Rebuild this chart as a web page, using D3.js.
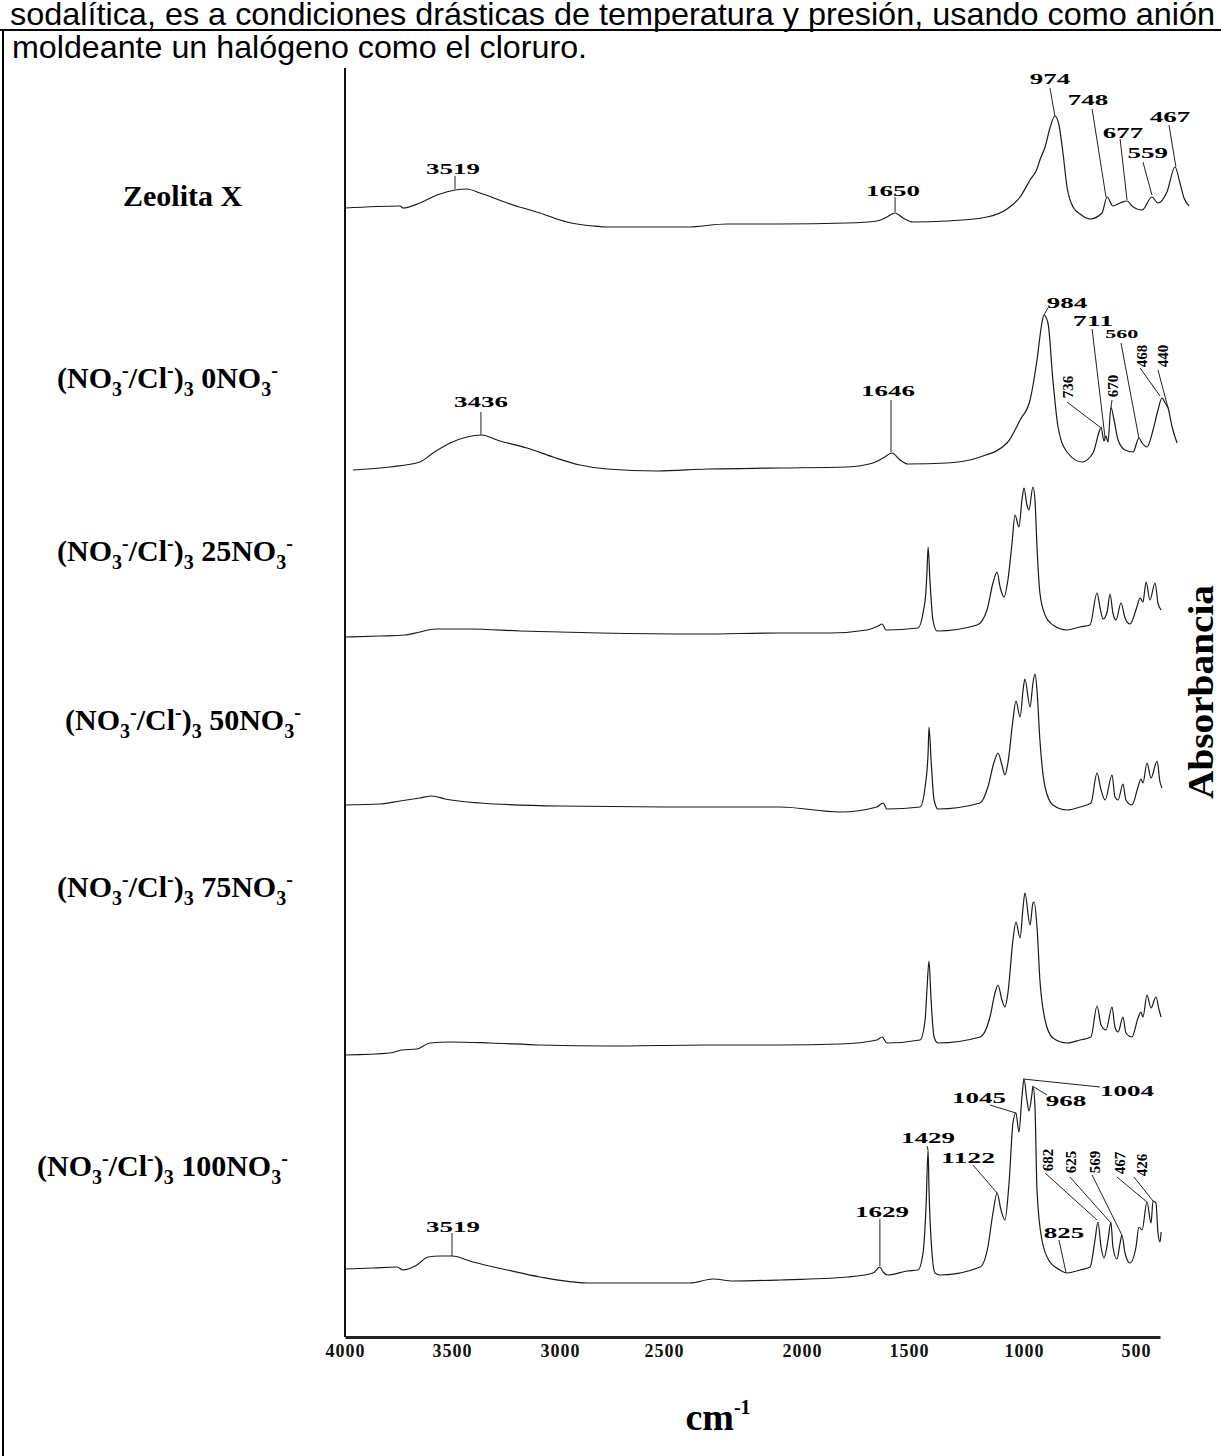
<!DOCTYPE html>
<html>
<head>
<meta charset="utf-8">
<script src="https://cdn.jsdelivr.net/npm/d3@7"></script>
<style>
  body { margin: 0; background: #fff; }
</style>
</head>
<body>
<svg id="chart"></svg>
<script>
// axis ticks (cm-1)
let tickValues = [4000, 3500, 3000, 2500, 2000, 1500, 1000, 500];

// sample names, pieces: [text, "" | "sub" | "sup"]
let sampleLabels = [
    [["Zeolita X", ""]],
    [["(NO", ""], ["3", "sub"], ["-", "sup"], ["/Cl", ""], ["-", "sup"], [")", ""], ["3", "sub"], [" 0NO", ""], ["3", "sub"], ["-", "sup"]],
    [["(NO", ""], ["3", "sub"], ["-", "sup"], ["/Cl", ""], ["-", "sup"], [")", ""], ["3", "sub"], [" 25NO", ""], ["3", "sub"], ["-", "sup"]],
    [["(NO", ""], ["3", "sub"], ["-", "sup"], ["/Cl", ""], ["-", "sup"], [")", ""], ["3", "sub"], [" 50NO", ""], ["3", "sub"], ["-", "sup"]],
    [["(NO", ""], ["3", "sub"], ["-", "sup"], ["/Cl", ""], ["-", "sup"], [")", ""], ["3", "sub"], [" 75NO", ""], ["3", "sub"], ["-", "sup"]],
    [["(NO", ""], ["3", "sub"], ["-", "sup"], ["/Cl", ""], ["-", "sup"], [")", ""], ["3", "sub"], [" 100NO", ""], ["3", "sub"], ["-", "sup"]]
];

// vertical offset of each trace (a.u.)
let offsets = [112.9, 86.7, 70.0, 53.2, 28.2, 6.8];

// spectra: [wavenumber, absorbance above own baseline]
let zeolitaX = [[4000,0],[3743,0.2],[3729,0],[3650,0.5],[3570,1.3],[3486,1.8],[3431,1.9],[3370,1.5],[3245,0.5],[3093,-0.5],[2966,-1.4],[2841,-1.8],[2774,-1.9],[2417,-1.9],[2272,-1.6],[2080,-1.6],[1790,-1.5],[1650,-1.3],[1603,-0.9],[1565,-0.5],[1528,-1.0],[1483,-1.4],[1335,-1.3],[1161,-0.9],[1074,-0.1],[1017,1.1],[973,2.8],[942,3.9],[929,4.8],[906,6.1],[884,8.0],[862,9.2],[844,8.3],[826,5.5],[808,2.1],[781,0.1],[750,-0.6],[705,-1.1],[652,-0.5],[629,1.1],[603,0.2],[571,0.5],[540,0.7],[518,0.2],[473,-0.2],[429,1.1],[402,0.5],[362,1.6],[326,4.1],[304,2.5],[286,1.0],[263,0.2]];

let no3_0 = [[3963,0],[3790,0.3],[3650,0.8],[3589,1.7],[3509,2.7],[3431,3.3],[3366,3.5],[3278,2.9],[3153,2.2],[3032,1.3],[2904,0.5],[2774,0.1],[2534,-0.1],[2344,0.1],[2080,0.2],[1790,0.3],[1668,0.7],[1621,1.2],[1579,1.7],[1542,1.0],[1505,0.6],[1335,0.7],[1191,1.3],[1074,2.7],[1017,5.0],[973,7.0],[942,11.0],[920,14.7],[911,15.5],[893,14.7],[871,9.0],[848,4.3],[808,1.8],[741,0.8],[692,1.7],[665,3.8],[656,4.3],[643,2.9],[634,3.4],[625,2.8],[612,6.3],[598,5.0],[580,3.0],[549,2.0],[513,1.8],[487,3.2],[473,2.7],[451,2.3],[424,4.0],[402,6.0],[384,7.2],[370,6.7],[357,6.2],[339,4.3],[326,3.3],[317,2.7]];

let no3_25 = [[4000,0],[3836,0.1],[3720,0.2],[3650,0.5],[3579,0.8],[3417,0.8],[3185,0.6],[2808,0.4],[2370,0.3],[2080,0.4],[1869,0.4],[1696,0.7],[1645,1.1],[1626,1.3],[1607,0.7],[1461,0.9],[1439,2.4],[1426,4.7],[1422,6.4],[1417,9.0],[1409,5.7],[1396,1.7],[1378,0.6],[1204,1.2],[1161,2.7],[1135,5.4],[1117,6.5],[1104,5.0],[1087,4.0],[1070,5.7],[1052,9.4],[1039,12.2],[1022,11.0],[1009,13.7],[1000,14.9],[987,13.2],[978,12.7],[960,15.0],[951,13.7],[942,9.0],[929,4.4],[906,2.2],[871,1.2],[808,0.7],[750,1.0],[705,1.2],[674,4.4],[661,3.0],[647,1.8],[629,2.5],[616,4.3],[603,2.4],[589,1.7],[567,3.4],[549,1.9],[527,1.3],[496,3.0],[482,3.9],[469,3.5],[455,5.5],[438,3.7],[415,5.4],[402,3.4],[388,2.7]];

let no3_50 = [[4000,0],[3836,0.1],[3743,0.4],[3650,0.7],[3593,0.9],[3533,0.6],[3370,0.2],[3000,-0.1],[2442,-0.2],[2080,-0.2],[1822,-0.7],[1650,-0.2],[1621,0.2],[1603,-0.4],[1452,-0.2],[1430,1.8],[1417,5.2],[1413,7.8],[1404,4.5],[1391,0.5],[1374,-0.4],[1191,0.2],[1157,1.8],[1130,4.3],[1113,5.2],[1096,4.0],[1083,3.0],[1070,4.2],[1048,8.5],[1035,10.4],[1017,8.8],[1004,11.5],[996,12.6],[973,9.8],[960,12.2],[951,13.1],[942,11.5],[929,6.5],[906,1.8],[871,0],[808,-0.5],[750,-0.2],[701,0.2],[674,3.2],[656,1.5],[638,0.5],[607,3.0],[594,0.8],[580,0.5],[558,2.1],[545,0.5],[518,0],[491,1.8],[478,2.6],[469,2.2],[451,4.2],[433,2.7],[406,4.4],[393,2.3],[384,1.7]];

let no3_75 = [[4000,0],[3790,0.2],[3734,0.5],[3664,0.6],[3603,1.2],[3509,1.3],[3324,1.2],[3093,1.0],[2774,0.9],[2344,1.0],[2080,1.0],[1822,1.1],[1650,1.5],[1626,1.8],[1603,1.2],[1452,1.5],[1430,3.5],[1422,6.5],[1413,9.4],[1404,5.5],[1391,1.8],[1374,1.2],[1191,1.8],[1148,3.8],[1126,6.2],[1113,7.0],[1096,5.5],[1083,4.8],[1070,6.2],[1048,11.5],[1035,13.3],[1017,11.7],[1004,14.8],[996,16.2],[973,13.0],[960,15.2],[955,15.3],[942,12.8],[929,7.5],[906,3.5],[871,1.7],[808,1.2],[750,1.5],[701,1.8],[674,4.9],[656,3.0],[634,2.5],[607,4.8],[594,2.8],[580,2.3],[558,3.8],[545,2.2],[518,1.8],[491,3.7],[478,4.3],[469,3.8],[451,6.0],[433,4.7],[411,5.8],[397,4.5],[388,3.8]];

let no3_100 = [[4000,0],[3869,0.1],[3757,0.2],[3729,-0.1],[3664,0.4],[3612,1.2],[3556,1.3],[3500,1.3],[3403,0.7],[3245,-0.1],[3093,-0.8],[2870,-1.4],[2774,-1.4],[2406,-1.4],[2322,-1.0],[2250,-1.2],[2080,-1.1],[1790,-0.8],[1668,-0.4],[1636,0.2],[1621,-0.3],[1598,-0.6],[1509,-0.2],[1461,-0.1],[1439,1.6],[1426,6.2],[1417,11.9],[1413,7.9],[1400,1.6],[1387,-0.4],[1365,-0.6],[1191,0.2],[1157,2.2],[1135,5.6],[1117,7.6],[1100,5.9],[1083,4.9],[1065,8.6],[1048,14.6],[1035,15.6],[1022,13.7],[1009,17.2],[1000,19.0],[987,16.9],[978,15.8],[964,17.6],[960,18.3],[951,16.2],[942,7.9],[920,2.9],[884,0.7],[839,-0.1],[808,-0.4],[750,-0.1],[705,0.2],[683,2.9],[670,4.7],[656,2.2],[643,1.1],[625,2.9],[612,4.7],[603,2.2],[585,1.0],[571,2.6],[563,3.4],[549,1.6],[527,0.6],[500,2.2],[487,4.2],[473,3.9],[451,6.7],[433,4.6],[424,6.8],[411,6.6],[402,3.6],[393,2.7],[388,3.7]];

let spectra = [zeolitaX, no3_0, no3_25, no3_50, no3_75, no3_100];

// peak labels: [text, label wn, label a, leader wn1, a1, wn2, a2, kind] kind 0 flat, 1 rotated, 2 small
let zeolitaPeaks = [
    ["3519", 3495, 3.9, 3486, 3.2, 3486, 1.9, 0],
    ["1650", 1575, 1.7, 1565, 1.1, 1565, -0.4, 0],
    ["974", 884, 12.9, 884, 12.0, 862, 9.2, 0],
    ["748", 714, 10.8, 696, 9.9, 634, 1.1, 0],
    ["677", 558, 7.5, 571, 6.9, 540, 0.8, 0],
    ["559", 447, 5.5, 469, 4.6, 429, 1.3, 0],
    ["467", 348, 9.1, 353, 8.3, 322, 4.1, 0]
];
let no3_0Peaks = [
    ["3436", 3366, 6.8, 3366, 5.8, 3366, 3.5, 0],
    ["1646", 1598, 7.9, 1584, 7.0, 1584, 1.8, 0],
    ["984", 808, 16.7, 893, 16.2, 911, 15.5, 0],
    ["711", 692, 14.9, 696, 14.1, 638, 3.2, 0],
    ["560", 563, 13.6, 567, 12.7, 487, 3.2, 2],
    ["736", 804, 8.3, 808, 6.8, 661, 4.3, 1],
    ["670", 603, 8.4, 607, 7.0, 612, 6.3, 1],
    ["468", 473, 11.4, 482, 10.2, 393, 7.4, 1],
    ["440", 380, 11.4, 402, 10.0, 357, 6.2, 1]
];
let no3_100Peaks = [
    ["3519", 3495, 4.2, 3500, 3.6, 3500, 1.3, 0],
    ["1629", 1626, 5.7, 1636, 5.0, 1636, 0.3, 0],
    ["1429", 1417, 13.1, 1422, 12.3, 1417, 11.9, 0],
    ["1122", 1243, 11.1, 1222, 10.4, 1117, 7.6, 0],
    ["1045", 1196, 17.1, 1148, 16.4, 1035, 15.6, 0],
    ["1004", 540, 17.8, 661, 18.2, 1004, 19.0, 0],
    ["968", 812, 16.8, 897, 17.4, 955, 18.2, 0],
    ["825", 821, 3.6, 844, 2.9, 812, -0.4, 0],
    ["682", 893, 10.9, 906, 9.6, 674, 4.9, 1],
    ["625", 790, 10.7, 795, 9.2, 616, 4.7, 1],
    ["569", 683, 10.7, 696, 9.4, 563, 3.4, 1],
    ["467", 571, 10.6, 585, 9.2, 451, 6.7, 1],
    ["426", 473, 10.4, 509, 9.2, 424, 6.8, 1]
];
let peakSets = [zeolitaPeaks, no3_0Peaks, [], [], [], no3_100Peaks];

let pageLines = [
    "sodalítica, es a condiciones drásticas de temperatura y presión, usando como anión",
    "moldeante un halógeno como el cloruro."
];

let W = 1221, H = 1456;
let serif = "'Liberation Serif', 'Times New Roman', serif";

let svg = d3.select("#chart")
    .attr("width", W)
    .attr("height", H)
    .style("display", "block");

// page frame + running text (first line is cut by the page top, as in the scan)
svg.append("line")
    .attr("x1", 0).attr("x2", W).attr("y1", 30).attr("y2", 30)
    .attr("stroke", "#000").attr("stroke-width", 2);
svg.append("line")
    .attr("x1", 3).attr("x2", 3).attr("y1", 30).attr("y2", H)
    .attr("stroke", "#000").attr("stroke-width", 2);

svg.selectAll(".para")
    .data(pageLines)
    .enter().append("text")
    .attr("class", "para")
    .attr("x", function (d, i) { return i === 0 ? 10 : 12; })
    .attr("y", function (d, i) { return i === 0 ? 25 : 58; })
    .attr("textLength", function (d, i) { return i === 0 ? 1205 : 575; })
    .attr("lengthAdjust", "spacingAndGlyphs")
    .style("font-family", "'Liberation Sans', Arial, sans-serif")
    .style("font-size", "32px")
    .text(function (d) { return d; });

// scales
let x = d3.scaleLinear()
    .domain([4000, 3500, 3000, 2500, 2000, 1500, 1000, 500, 393])
    .range([345, 452, 560, 664, 802, 909, 1024, 1136, 1160]);

let y = d3.scaleLinear()
    .domain([0, 126.9])
    .range([1337, 68]);

// y axis line (no ticks)
svg.append("line")
    .attr("x1", x(4000)).attr("x2", x(4000))
    .attr("y1", y(0)).attr("y2", y(126.9))
    .attr("stroke", "#111").attr("stroke-width", 2);

// x axis
let xAxis = svg.append("g")
    .attr("transform", "translate(0," + y(0) + ")")
    .call(d3.axisBottom(x).tickValues(tickValues).tickSize(0).tickPadding(7)
        .tickFormat(d3.format("d")));
xAxis.select(".domain")
    .attr("stroke", "#222").attr("stroke-width", 3);
xAxis.selectAll("text")
    .style("font-family", serif)
    .style("font-weight", "bold")
    .style("font-size", "18px")
    .style("letter-spacing", "1px")
    .attr("fill", "#111");

svg.append("text")
    .attr("x", 718)
    .attr("y", 1430)
    .attr("text-anchor", "middle")
    .style("font-family", serif)
    .style("font-weight", "bold")
    .style("font-size", "38px")
    .text("cm")
    .append("tspan")
    .attr("dy", -16)
    .style("font-size", "20px")
    .text("-1");

svg.append("text")
    .attr("transform", "translate(1213,692) rotate(-90)")
    .attr("text-anchor", "middle")
    .attr("textLength", 214)
    .attr("lengthAdjust", "spacingAndGlyphs")
    .style("font-family", serif)
    .style("font-weight", "bold")
    .style("font-size", "36px")
    .text("Absorbancia");

// sample labels on the left
let labelX = [123, 57, 57, 65, 57, 37];
let labelY = [206, 388, 561, 730, 897, 1176];
let shift = {"": 0, "sub": 8, "sup": -11};
sampleLabels.forEach(function (parts, i) {
    let t = svg.append("text")
        .attr("x", labelX[i])
        .attr("y", labelY[i])
        .style("font-family", serif)
        .style("font-weight", "bold")
        .style("font-size", "30px");
    let cur = 0;
    parts.forEach(function (p) {
        let target = shift[p[1]];
        t.append("tspan")
            .attr("dy", target - cur)
            .style("font-size", p[1] === "" ? "30px" : "20px")
            .text(p[0]);
        cur = target;
    });
});

// spectra
let line = d3.line()
    .x(function (d) { return x(d[0]); })
    .y(function (d) { return d[1]; })
    .curve(d3.curveMonotoneX);

spectra.forEach(function (s, i) {
    let pts = s.map(function (d) { return [d[0], y(offsets[i] + d[1])]; });
    svg.append("path")
        .attr("d", line(pts))
        .attr("fill", "none")
        .attr("stroke", "#1a1a1a")
        .attr("stroke-width", 1.2)
        .attr("stroke-linejoin", "round");
});

// peak annotations
peakSets.forEach(function (peaks, i) {
    let off = offsets[i];
    peaks.forEach(function (p) {
        svg.append("line")
            .attr("x1", x(p[3])).attr("y1", y(off + p[4]))
            .attr("x2", x(p[5])).attr("y2", y(off + p[6]))
            .attr("stroke", "#222").attr("stroke-width", 1);
        let lx = x(p[1]), ly = y(off + p[2]);
        let t = svg.append("text")
            .attr("text-anchor", "middle")
            .attr("dy", "0.35em")
            .style("font-family", serif)
            .style("font-weight", "bold")
            .text(p[0]);
        if (p[7] === 1) {
            t.attr("transform", "translate(" + lx + "," + ly + ") rotate(-90)")
                .style("font-size", "15px");
        } else {
            t.attr("x", lx).attr("y", ly)
                .style("font-size", p[7] === 2 ? "12px" : "15px")
                .attr("textLength", p[0].length * (p[7] === 2 ? 11 : 13.5))
                .attr("lengthAdjust", "spacingAndGlyphs");
        }
    });
});
</script>
</body>
</html>
